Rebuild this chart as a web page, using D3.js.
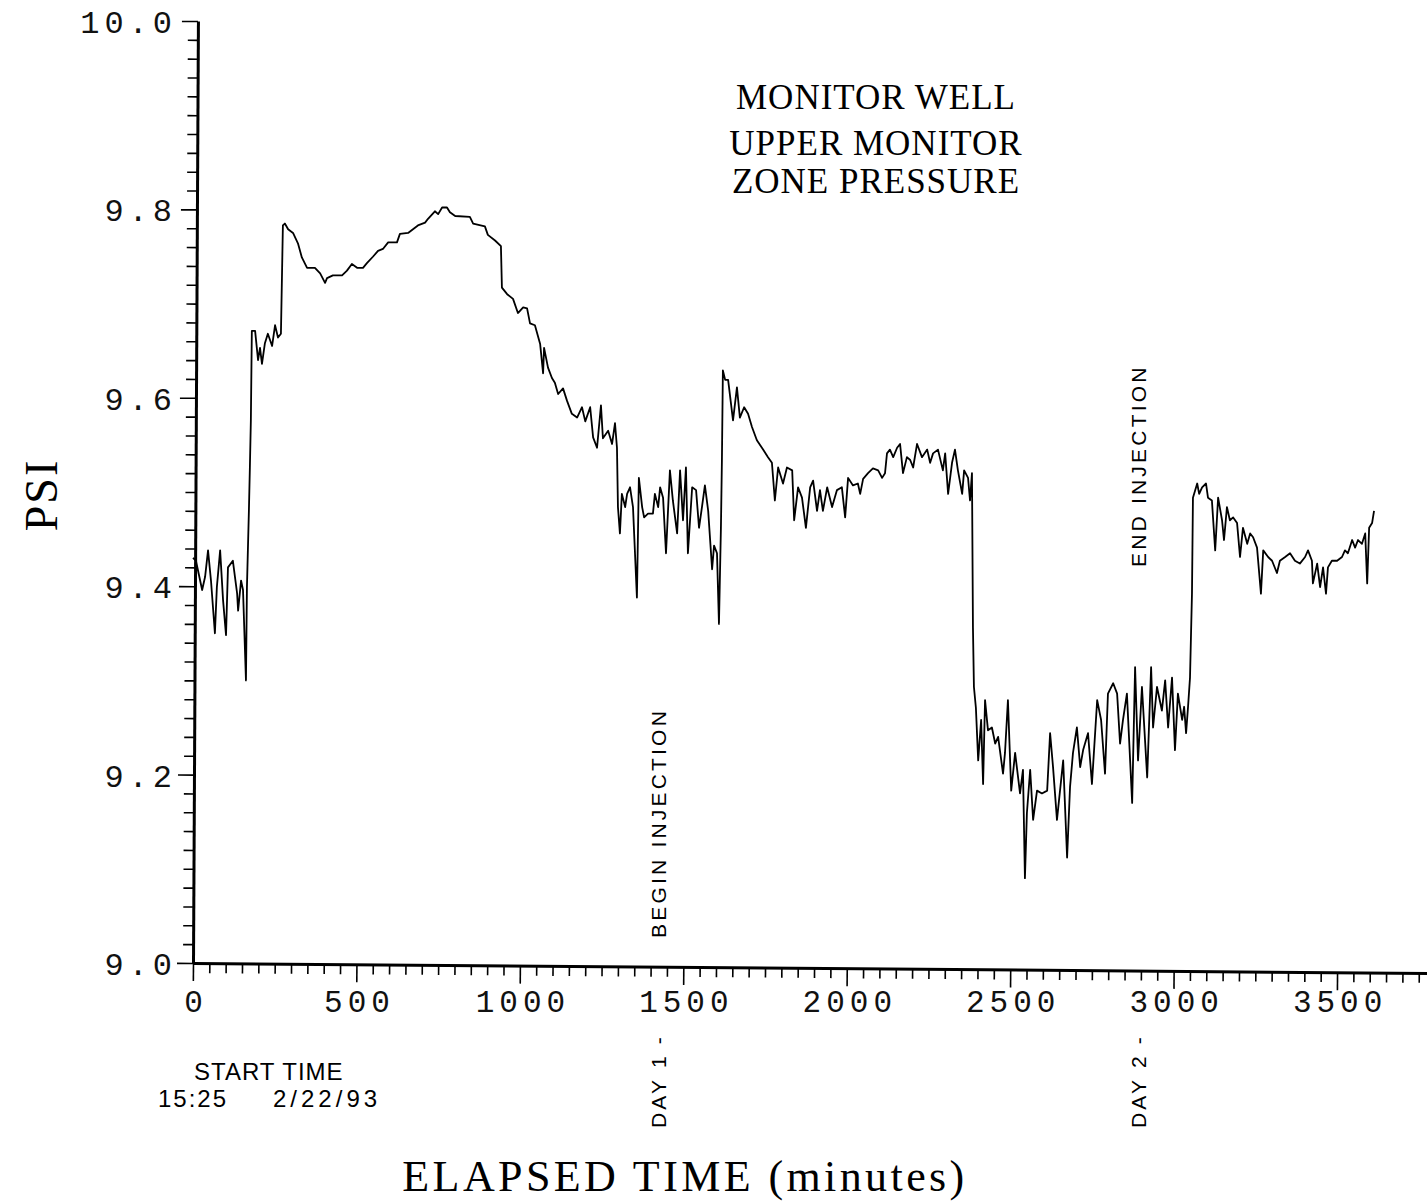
<!DOCTYPE html>
<html><head><meta charset="utf-8">
<script src="https://cdn.jsdelivr.net/npm/d3@7"></script>
<style>body{margin:0;background:#fff} svg{display:block}</style>
</head><body>
<script>
// elapsed time (minutes)
const times = [0,9,28,37,46,55,67,73,83,92,101,107,122,135,138,147,153,162,165,171,174,177,180,190,199,205,211,220,229,242,251,260,269,275,281,291,306,321,333,349,373,389,404,410,428,456,471,486,502,520,532,551,566,581,597,624,633,658,673,688,710,719,740,750,762,777,786,802,847,857,893,902,924,942,945,961,979,994,1010,1022,1031,1046,1062,1071,1074,1086,1098,1107,1117,1132,1144,1159,1175,1190,1200,1215,1224,1236,1248,1254,1270,1282,1291,1297,1300,1306,1312,1322,1328,1337,1346,1358,1364,1374,1380,1392,1407,1413,1423,1429,1438,1447,1459,1468,1481,1490,1499,1508,1514,1527,1539,1548,1557,1566,1576,1588,1594,1603,1609,1615,1618,1621,1628,1637,1652,1664,1673,1686,1698,1710,1725,1744,1759,1771,1780,1790,1805,1817,1833,1839,1851,1863,1875,1888,1897,1909,1918,1927,1940,1955,1970,1985,1995,2004,2019,2034,2041,2050,2065,2080,2096,2108,2117,2123,2132,2142,2154,2163,2172,2184,2194,2203,2215,2230,2246,2255,2264,2279,2294,2301,2310,2322,2331,2340,2353,2359,2371,2377,2383,2386,2389,2395,2402,2411,2417,2423,2432,2444,2454,2463,2478,2484,2493,2503,2515,2530,2539,2545,2551,2561,2570,2582,2597,2613,2622,2631,2643,2662,2674,2683,2692,2704,2714,2723,2738,2750,2766,2778,2790,2799,2815,2827,2836,2845,2857,2873,2882,2891,2903,2919,2931,2937,2949,2964,2974,2983,2995,3004,3013,3026,3032,3038,3044,3050,3056,3059,3072,3078,3087,3099,3105,3117,3127,3136,3148,3154,3163,3172,3182,3194,3203,3212,3225,3234,3243,3255,3267,3274,3289,3301,3316,3325,3341,3356,3371,3386,3402,3411,3423,3426,3439,3448,3457,3466,3472,3484,3500,3515,3524,3533,3546,3555,3564,3576,3586,3592,3598,3607,3613];
// pressure (psi)
const psi = [9.430,9.427,9.396,9.410,9.438,9.406,9.350,9.399,9.438,9.385,9.348,9.420,9.427,9.392,9.374,9.406,9.396,9.300,9.399,9.480,9.526,9.576,9.671,9.671,9.640,9.653,9.636,9.658,9.668,9.655,9.677,9.664,9.668,9.783,9.785,9.779,9.775,9.764,9.749,9.738,9.738,9.732,9.722,9.727,9.730,9.730,9.735,9.742,9.738,9.738,9.743,9.750,9.756,9.758,9.765,9.765,9.774,9.775,9.779,9.783,9.786,9.790,9.798,9.795,9.802,9.802,9.797,9.793,9.792,9.785,9.782,9.773,9.767,9.761,9.717,9.710,9.705,9.690,9.696,9.695,9.679,9.677,9.657,9.626,9.653,9.632,9.621,9.616,9.604,9.610,9.597,9.583,9.579,9.590,9.575,9.590,9.558,9.547,9.592,9.557,9.565,9.551,9.573,9.547,9.484,9.456,9.498,9.484,9.498,9.505,9.484,9.388,9.515,9.484,9.473,9.477,9.477,9.498,9.484,9.505,9.494,9.435,9.523,9.491,9.456,9.523,9.470,9.526,9.435,9.505,9.502,9.462,9.484,9.507,9.480,9.418,9.443,9.435,9.360,9.462,9.533,9.629,9.619,9.619,9.576,9.611,9.579,9.590,9.583,9.569,9.555,9.545,9.537,9.531,9.491,9.526,9.509,9.526,9.523,9.470,9.505,9.494,9.462,9.505,9.512,9.480,9.502,9.480,9.505,9.484,9.502,9.505,9.473,9.515,9.507,9.509,9.498,9.514,9.520,9.525,9.523,9.515,9.520,9.541,9.545,9.537,9.547,9.551,9.520,9.537,9.534,9.526,9.551,9.537,9.545,9.531,9.541,9.545,9.523,9.541,9.498,9.531,9.545,9.523,9.498,9.523,9.515,9.491,9.520,9.356,9.293,9.271,9.215,9.258,9.190,9.279,9.247,9.250,9.233,9.240,9.201,9.223,9.279,9.183,9.223,9.180,9.205,9.090,9.159,9.205,9.152,9.183,9.180,9.183,9.244,9.208,9.152,9.215,9.112,9.187,9.223,9.250,9.208,9.226,9.244,9.190,9.279,9.258,9.201,9.286,9.297,9.286,9.233,9.258,9.286,9.170,9.314,9.215,9.293,9.197,9.314,9.250,9.293,9.268,9.300,9.250,9.303,9.226,9.286,9.258,9.272,9.244,9.272,9.303,9.392,9.494,9.509,9.498,9.505,9.509,9.494,9.491,9.438,9.494,9.470,9.449,9.484,9.470,9.473,9.467,9.431,9.462,9.445,9.456,9.452,9.441,9.392,9.438,9.431,9.427,9.414,9.427,9.431,9.435,9.427,9.424,9.431,9.438,9.427,9.403,9.424,9.399,9.420,9.392,9.420,9.427,9.427,9.431,9.438,9.435,9.449,9.441,9.449,9.445,9.456,9.403,9.462,9.467,9.480];

const xMajorTicks = [0,500,1000,1500,2000,2500,3000,3500];
const xTickLabels = ["0","500","1000","1500","2000","2500","3000","3500"];
const yMajorTicks = [9.0,9.2,9.4,9.6,9.8,10.0];
const yTickLabels = ["9.0","9.2","9.4","9.6","9.8","10.0"];
const titleLines = ["MONITOR WELL","UPPER MONITOR","ZONE PRESSURE"];
const yTitle = "PSI";
const xTitle = "ELAPSED TIME (minutes)";
const startTimeLabel = "START TIME";
const startClock = "15:25";
const startDate = "2/22/93";
const annotations = [
  {text:"BEGIN INJECTION", t:1410, pos:"upper"},
  {text:"DAY 1 -", t:1410, pos:"lower"},
  {text:"END INJECTION", t:2880, pos:"mid"},
  {text:"DAY 2 -", t:2880, pos:"lower"}
];

const W = 1427, H = 1203;
const svg = d3.select("body").append("svg").attr("width", W).attr("height", H)
  .style("background", "#fff");

const x = d3.scaleLinear().domain([0, 3775]).range([193, 1427]);
const y = d3.scaleLinear().domain([9, 10]).range([963, 21]);

const monoFont = "'Liberation Mono', 'DejaVu Sans Mono', monospace";

// X axis lines (slightly skewed like the plotter drawing)
const xMinor = d3.range(0, 3751, 50);
const gxl = svg.append("g")
  .attr("transform", "rotate(0.46,193,963) translate(0,963)")
  .call(d3.axisBottom(x).tickValues(xMinor).tickSize(10).tickSizeOuter(0).tickFormat(""));
gxl.select(".domain").attr("stroke", "#000").attr("stroke-width", 3);
gxl.selectAll(".tick line").attr("stroke", "#000").attr("stroke-width", 1.6)
  .attr("y2", d => (Math.round(d) % 500 === 0 ? 18 : 10));

// X tick labels
const gxt = svg.append("g").attr("transform", "translate(0,963)")
  .call(d3.axisBottom(x).tickValues(xMajorTicks).tickSize(0)
    .tickFormat((d, i) => xTickLabels[i]));
gxt.select(".domain").remove();
gxt.selectAll("text").attr("y", 49).attr("dy", 0).attr("dx", 2.5)
  .attr("font-family", monoFont).attr("font-size", 31)
  .attr("letter-spacing", 5).attr("fill", "#111");

// Y axis lines
const yMinor = d3.range(0, 51).map(i => 9 + i * 0.02);
const gyl = svg.append("g")
  .attr("transform", "rotate(0.30,193,963) translate(193,0)")
  .call(d3.axisLeft(y).tickValues(yMinor).tickSize(10).tickSizeOuter(0).tickFormat(""));
gyl.select(".domain").attr("stroke", "#000").attr("stroke-width", 3);
gyl.selectAll(".tick line").attr("stroke", "#000").attr("stroke-width", 1.6)
  .attr("x2", (d, i) => (i % 10 === 0 ? -16 : -10));

// Y tick labels
const gyt = svg.append("g").attr("transform", "translate(193,0)")
  .call(d3.axisLeft(y).tickValues(yMajorTicks).tickSize(0)
    .tickFormat((d, i) => yTickLabels[i]));
gyt.select(".domain").remove();
gyt.selectAll("text").attr("x", -16).attr("dy", "0.36em")
  .attr("font-family", monoFont).attr("font-size", 32)
  .attr("letter-spacing", 5).attr("fill", "#111");

// Data line
const data = times.map((t, i) => [t, psi[i]]);
svg.append("path").datum(data)
  .attr("fill", "none").attr("stroke", "#000").attr("stroke-width", 1.8)
  .attr("stroke-linejoin", "round")
  .attr("d", d3.line().x(d => x(d[0])).y(d => y(d[1])));

// Title
const serif = "'Liberation Serif', 'Times New Roman', serif";
svg.append("g").selectAll("text").data(titleLines).join("text")
  .attr("x", 876).attr("y", (d, i) => [109, 155, 193][i])
  .attr("text-anchor", "middle").attr("font-family", serif)
  .attr("font-size", 35).attr("letter-spacing", 1).text(d => d);

// Axis titles
svg.append("text").attr("transform", "translate(57,495) rotate(-90)")
  .attr("text-anchor", "middle").attr("font-family", serif)
  .attr("font-size", 46).attr("letter-spacing", 2).text(yTitle);
svg.append("text").attr("x", 685).attr("y", 1191)
  .attr("text-anchor", "middle").attr("font-family", serif)
  .attr("font-size", 44).attr("letter-spacing", 3.4).text(xTitle);

// Start time
const sans = "'Liberation Sans', Arial, sans-serif";
svg.append("text").attr("x", 194).attr("y", 1080).attr("font-family", sans)
  .attr("font-size", 24).attr("letter-spacing", 1).text(startTimeLabel);
svg.append("text").attr("x", 158).attr("y", 1107).attr("font-family", sans)
  .attr("font-size", 24).attr("letter-spacing", 2).text(startClock);
svg.append("text").attr("x", 273).attr("y", 1107).attr("font-family", sans)
  .attr("font-size", 24).attr("letter-spacing", 4).text(startDate);

// Vertical annotations
const annY = {upper: 938, lower: 1128, mid: 567};
svg.append("g").selectAll("text").data(annotations).join("text")
  .attr("transform", d => `translate(${x(d.t) + 12},${annY[d.pos]}) rotate(-90)`)
  .attr("font-family", sans).attr("font-size", 21).attr("letter-spacing", 3.2)
  .text(d => d.text);
</script>
</body></html>
